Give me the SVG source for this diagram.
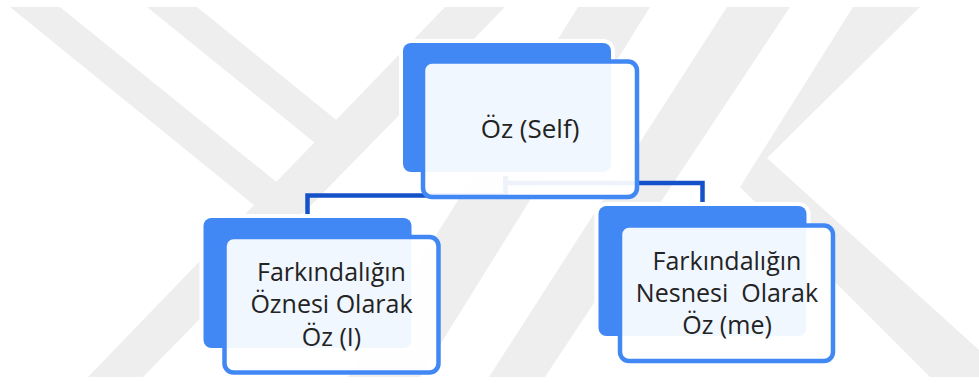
<svg xmlns="http://www.w3.org/2000/svg" width="979" height="383" viewBox="0 0 979 383">
<style>
.wm{fill:#eeeeee}
.back{fill:#4188f5;stroke:#ffffff;stroke-width:8;paint-order:stroke}
.front{fill:#ffffff;fill-opacity:0.93;stroke:#4188f5;stroke-width:4.5}
.conn{fill:none;stroke:#1552c9;stroke-width:4.5;stroke-linejoin:miter}
.t{font-family:"Open Sans","Noto Sans","DejaVu Sans",sans-serif;fill:#232323;text-anchor:middle}
.t1{font-size:26px}
.t2{font-size:25px}
</style>
<rect width="979" height="383" fill="#ffffff"/>
<g id="watermark">
<polygon class="wm" points="88,377 143,377 505,7 445,7"/>
<polygon class="wm" points="10,7 60,7 300,201 260,210"/>
<polygon class="wm" points="147,7 197,7 345,127 320,147"/>
<polygon class="wm" points="578,7 650,7 420,377 348,377"/>
<polygon class="wm" points="727,7 790,7 545,377 489,377"/>
<polygon class="wm" points="853,7 920,7 767,158 740,187"/>
<polygon class="wm" points="740,187 767,158 979,350 979,377 930,377"/>
</g>
<g id="connectors">
<path class="conn" d="M505.5 172 V195.5 H307.5 V222"/>
<path class="conn" d="M505.5 172 V183 H702.5 V210"/>
</g>
<g id="node-self">
<rect class="back" x="403" y="43" width="208" height="129" rx="8"/>
<rect class="front" x="423" y="61.5" width="214" height="135.5" rx="9"/>
<text class="t t1" x="530" y="138">Öz (Self)</text>
</g>
<g id="node-I">
<rect class="back" x="203.5" y="218" width="208" height="130" rx="8"/>
<rect class="front" x="224.5" y="237" width="214" height="135.5" rx="9"/>
<text class="t t2" x="331.5" y="281">Farkındalığın</text>
<text class="t t2" x="331.5" y="313">Öznesi Olarak</text>
<text class="t t2" x="331.5" y="345.5">Öz (I)</text>
</g>
<g id="node-me">
<rect class="back" x="598.5" y="206" width="208" height="130" rx="8"/>
<rect class="front" x="620" y="225.5" width="213" height="135.5" rx="9"/>
<text class="t t2" x="727" y="269.5" xml:space="preserve">Farkındalığın</text>
<text class="t t2" x="727" y="301.5" xml:space="preserve">Nesnesi  Olarak</text>
<text class="t t2" x="727" y="334">Öz (me)</text>
</g>
</svg>
